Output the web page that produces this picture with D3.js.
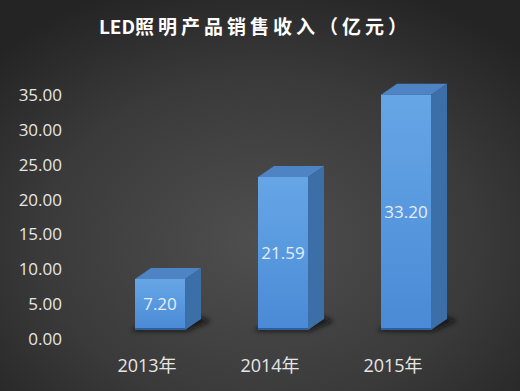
<!DOCTYPE html>
<html>
<head>
<meta charset="utf-8">
<script src="https://cdn.jsdelivr.net/npm/d3@7"></script>
<style>
  body { margin: 0; background: #2b2b2b; }
  svg { display: block; }
</style>
</head>
<body>
<script>
let categories = ["2013年", "2014年", "2015年"];
let values = [7.20, 21.59, 33.20];
let tickValues = [0, 5, 10, 15, 20, 25, 30, 35];
let titleLatin = "LED";
let titleCjk = "照明产品销售收入（亿元）";

let w = 520;
let h = 391;
let barWidth = 50;
let depthX = 16; // 3d depth
let depthY = 11;

let svg = d3.select("body")
  .append("svg")
  .attr("width", w)
  .attr("height", h);

let defs = svg.append("defs");

let bg = defs.append("radialGradient")
  .attr("id", "bg")
  .attr("cx", "50%").attr("cy", "62%").attr("r", "70%");
bg.append("stop").attr("offset", "0%").attr("stop-color", "#4f4f4f");
bg.append("stop").attr("offset", "60%").attr("stop-color", "#3a3a3a");
bg.append("stop").attr("offset", "100%").attr("stop-color", "#242424");

let front = defs.append("linearGradient")
  .attr("id", "front")
  .attr("x1", 0).attr("y1", 0).attr("x2", 0).attr("y2", 1);
front.append("stop").attr("offset", "0%").attr("stop-color", "#66a6e6");
front.append("stop").attr("offset", "100%").attr("stop-color", "#4a8ad6");

let blur = defs.append("filter").attr("id", "blur")
  .attr("x", "-50%").attr("y", "-50%").attr("width", "200%").attr("height", "200%");
blur.append("feGaussianBlur").attr("stdDeviation", 2.5);

svg.append("rect")
  .attr("width", w)
  .attr("height", h)
  .attr("fill", "url(#bg)");

let titleText = svg.append("text")
  .attr("x", 255)
  .attr("y", 34)
  .attr("text-anchor", "middle")
  .style("font-family", "'Noto Sans CJK SC', 'Noto Sans', sans-serif")
  .style("font-size", "19px")
  .style("font-weight", "bold")
  .attr("fill", "#ffffff");
titleText.append("tspan").text(titleLatin);
titleText.append("tspan").style("letter-spacing", "4px").text(titleCjk);

let xScale = d3.scalePoint()
  .domain(categories)
  .range([160, 406]);

// bars (front face) and the axis labels sit at slightly different depths
let yScale = d3.scaleLinear()
  .domain([0, 35])
  .range([330, 82]);

let yLabelScale = d3.scaleLinear()
  .domain([0, 35])
  .range([339, 95]);

let yAxis = d3.axisLeft(yLabelScale)
  .tickValues(tickValues)
  .tickSize(0)
  .tickPadding(0)
  .tickFormat(d3.format(".2f"));

let yg = svg.append("g")
  .attr("transform", "translate(62,0)")
  .call(yAxis);
yg.select(".domain").remove();
yg.selectAll("text")
  .attr("fill", "#e6e6e6")
  .style("font-family", "'Open Sans', 'Noto Sans', sans-serif")
  .style("font-size", "17px");

let bars = svg.selectAll(".bar")
  .data(values)
  .enter()
  .append("g")
  .attr("class", "bar");

// shadow under each bar
bars.append("polygon")
  .attr("points", (d, i) => {
    let x0 = xScale(categories[i]) - barWidth / 2;
    let x1 = x0 + barWidth;
    let y0 = yScale(0);
    return [[x0 - 4, y0 + 1], [x1 + 2, y0 + 1], [x1 + depthX + 10, y0 - depthY + 2], [x1 + depthX, y0 - depthY - 2], [x0, y0 - 2]].join(" ");
  })
  .attr("fill", "#111")
  .attr("opacity", 0.8)
  .attr("filter", "url(#blur)");

// side face
bars.append("polygon")
  .attr("points", (d, i) => {
    let x1 = xScale(categories[i]) + barWidth / 2;
    let yt = yScale(d);
    let y0 = yScale(0);
    return [[x1, yt], [x1 + depthX, yt - depthY], [x1 + depthX, y0 - depthY], [x1, y0]].join(" ");
  })
  .attr("fill", "#3c6ea8");

// top face
bars.append("polygon")
  .attr("points", (d, i) => {
    let x0 = xScale(categories[i]) - barWidth / 2;
    let x1 = x0 + barWidth;
    let yt = yScale(d);
    return [[x0, yt], [x0 + depthX, yt - depthY], [x1 + depthX, yt - depthY], [x1, yt]].join(" ");
  })
  .attr("fill", "#4e84c4");

// front face
bars.append("rect")
  .attr("x", (d, i) => xScale(categories[i]) - barWidth / 2)
  .attr("y", (d) => yScale(d))
  .attr("width", barWidth)
  .attr("height", (d) => yScale(0) - yScale(d))
  .attr("fill", "url(#front)");

bars.append("rect")
  .attr("x", (d, i) => xScale(categories[i]) - barWidth / 2)
  .attr("y", yScale(0) - 2)
  .attr("width", barWidth)
  .attr("height", 2)
  .attr("fill", "#2f5f98");

bars.append("text")
  .attr("x", (d, i) => xScale(categories[i]))
  .attr("y", (d) => (yScale(d) + yScale(0)) / 2)
  .attr("dy", "0.35em")
  .attr("text-anchor", "middle")
  .attr("fill", "#e4eefa")
  .style("font-family", "'Open Sans', 'Noto Sans', sans-serif")
  .style("font-size", "17px")
  .text((d) => d3.format(".2f")(d));

svg.selectAll(".xlabel")
  .data(categories)
  .enter()
  .append("text")
  .attr("class", "xlabel")
  .attr("x", (d) => xScale(d) - 13)
  .attr("y", 372)
  .attr("text-anchor", "middle")
  .attr("fill", "#e6e6e6")
  .style("font-family", "'Open Sans', 'Noto Sans CJK SC', sans-serif")
  .style("font-size", "18px")
  .text((d) => d);
</script>
</body>
</html>
